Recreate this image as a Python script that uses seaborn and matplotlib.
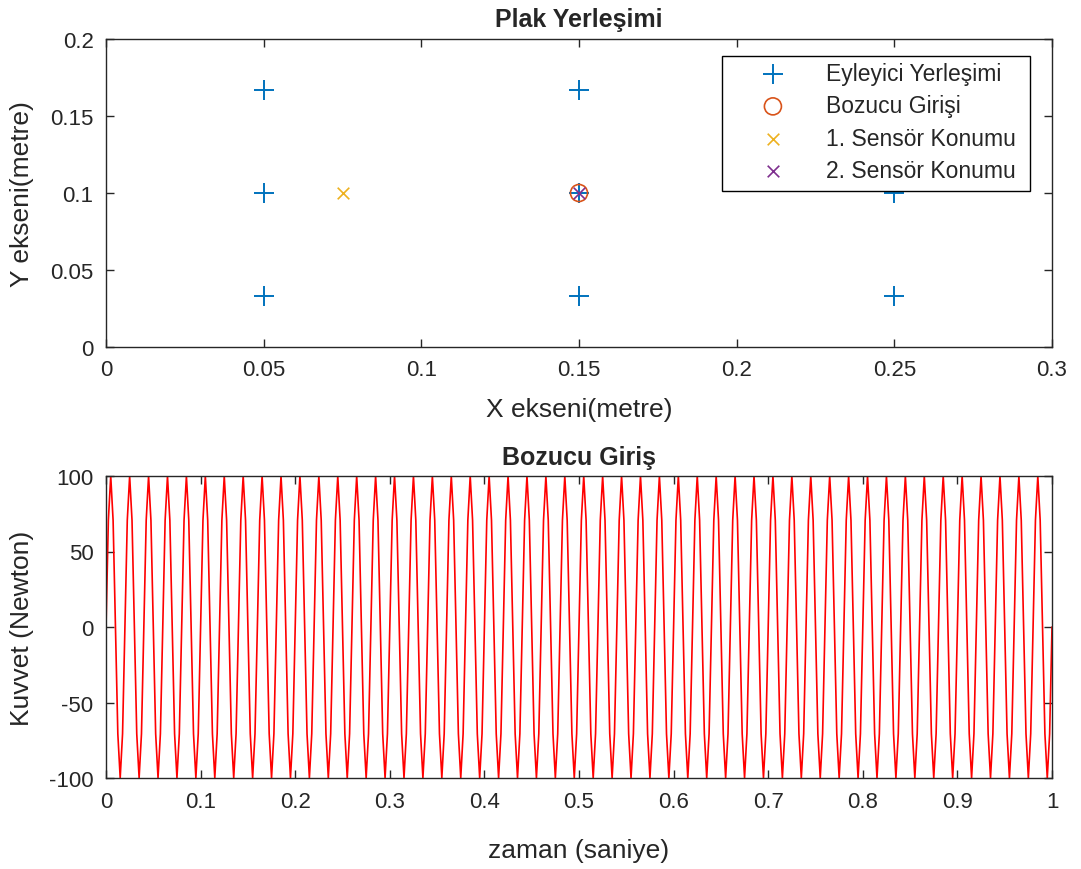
import numpy as np
import pandas as pd
import matplotlib
matplotlib.use("Agg")
import matplotlib.pyplot as plt
from matplotlib.patches import Rectangle
import seaborn as sns

# ---- data ----
actuator_x = [0.05, 0.05, 0.05, 0.15, 0.15, 0.15, 0.25, 0.25, 0.25]
actuator_y = [1/30, 0.1, 1/6, 1/30, 0.1, 1/6, 1/30, 0.1, 1/6]
disturb_x = [0.15]
disturb_y = [0.1]
sensor1_x = [0.075]
sensor1_y = [0.1]
sensor2_x = [0.15]
sensor2_y = [0.1]

legend_labels = ["Eyleyici Yerleşimi", "Bozucu Girişi", "1. Sensör Konumu", "2. Sensör Konumu"]

force_amplitude = 100.0      # Newton
force_frequency = 50.0       # Hz (period 0.02 s)
time = np.linspace(0, 1, 401)
force = force_amplitude * np.sin(2 * np.pi * force_frequency * time)

top_xticks = [0, 0.05, 0.1, 0.15, 0.2, 0.25, 0.3]
top_xticklabels = ['0', '0.05', '0.1', '0.15', '0.2', '0.25', '0.3']
top_yticks = [0, 0.05, 0.1, 0.15, 0.2]
top_yticklabels = ['0', '0.05', '0.1', '0.15', '0.2']
bot_xticks = [0, 0.1, 0.2, 0.3, 0.4, 0.5, 0.6, 0.7, 0.8, 0.9, 1]
bot_xticklabels = ['0', '0.1', '0.2', '0.3', '0.4', '0.5', '0.6', '0.7', '0.8', '0.9', '1']
bot_yticks = [-100, -50, 0, 50, 100]
bot_yticklabels = ['-100', '-50', '0', '50', '100']

# ---- style ----
sns.set_style("white")
plt.rcParams['font.family'] = ['Liberation Sans', 'DejaVu Sans']
AX = '#262626'
plt.rcParams.update({
    'axes.edgecolor': AX, 'axes.linewidth': 1.0,
    'xtick.color': AX, 'ytick.color': AX,
    'text.color': AX, 'axes.labelcolor': AX,
    'axes.unicode_minus': False,
})

C_BLUE = '#0072BD'
C_ORANGE = '#D95319'
C_YELLOW = '#EDB120'
C_PURPLE = '#7E2F8E'

W, H = 1081, 870
fig = plt.figure(figsize=(W / 100, H / 100), dpi=100)
ax1 = fig.add_axes([106/W, 1-348/H, 946/W, 308/H])
ax2 = fig.add_axes([106/W, 1-779/H, 946/W, 302/H])

FS_TICK = 16
FS_LABEL = 19
FS_TITLE = 18
FS_LEG = 16.5

# top plot
sns.scatterplot(x=actuator_x, y=actuator_y, ax=ax1, marker='+', color=C_BLUE,
                s=220, linewidth=1.4, label=legend_labels[0])
sns.scatterplot(x=disturb_x, y=disturb_y, ax=ax1, marker='o', s=150,
                facecolors='none', edgecolors=C_ORANGE, linewidth=1.2,
                label=legend_labels[1])
sns.scatterplot(x=sensor1_x, y=sensor1_y, ax=ax1, marker='x', color=C_YELLOW,
                s=70, linewidth=1.2, label=legend_labels[2])
sns.scatterplot(x=sensor2_x, y=sensor2_y, ax=ax1, marker='x', color=C_PURPLE,
                s=70, linewidth=1.2, label=legend_labels[3])

ax1.set_xlim(0, 0.3)
ax1.set_ylim(0, 0.2)
ax1.set_xticks(top_xticks)
ax1.set_xticklabels(top_xticklabels)
ax1.set_yticks(top_yticks)
ax1.set_yticklabels(top_yticklabels)
ax1.set_xlabel('X ekseni(metre)', fontsize=FS_LABEL)
ax1.set_ylabel('Y ekseni(metre)', fontsize=FS_LABEL)
ax1.set_title('Plak Yerleşimi', fontsize=FS_TITLE, fontweight='bold', pad=9)

# legend: frame drawn as a separate box (MATLAB-style wide padding)
leg_box = Rectangle((722 / W, 1 - 192 / H), (1030 - 722) / W, (192 - 57) / H,
                    transform=fig.transFigure, facecolor='white',
                    edgecolor='black', linewidth=1.0, zorder=4, clip_on=False)
ax1.add_patch(leg_box)
leg = ax1.legend(loc='upper left', bbox_to_anchor=(750 / W, 1 - 63 / H),
                 bbox_transform=fig.transFigure,
                 fontsize=FS_LEG, frameon=False, borderaxespad=0, borderpad=0,
                 handlelength=2.0, handletextpad=1.3, labelspacing=0.41,
                 markerscale=1.0)
leg.set_zorder(5)

# bottom plot
sns.lineplot(x=time, y=force, ax=ax2, color='#FF0000', linewidth=1.2)
ax2.set_xlim(0, 1)
ax2.set_ylim(-100, 100)
ax2.set_xticks(bot_xticks)
ax2.set_xticklabels(bot_xticklabels)
ax2.set_yticks(bot_yticks)
ax2.set_yticklabels(bot_yticklabels)
ax2.set_xlabel('zaman (saniye)', fontsize=FS_LABEL)
ax2.set_ylabel('Kuvvet (Newton)', fontsize=FS_LABEL)
ax2.set_title('Bozucu Giriş', fontsize=FS_TITLE, fontweight='bold', pad=9)

# label placement (axes coords)
ax1.xaxis.set_label_coords(0.5, (348 - 410) / 308)
ax1.yaxis.set_label_coords((22 - 106) / 946, 0.5)
ax2.xaxis.set_label_coords(0.5, (779 - 851) / 302)
ax2.yaxis.set_label_coords((22 - 106) / 946, 0.5)
for ax in (ax1, ax2):
    ax.xaxis.label.set_verticalalignment('center')
    ax.yaxis.label.set_verticalalignment('center')

for ax in (ax1, ax2):
    for sp in ax.spines.values():
        sp.set_visible(True)
        sp.set_color(AX)
    ax.tick_params(which='both', direction='in', top=True, right=True,
                   bottom=True, left=True, length=6, width=1,
                   labelsize=FS_TICK)
    ax.tick_params(axis='x', pad=9)
    ax.tick_params(axis='y', pad=9)
    ax.grid(False)

fig.savefig('out.png', dpi=100)
